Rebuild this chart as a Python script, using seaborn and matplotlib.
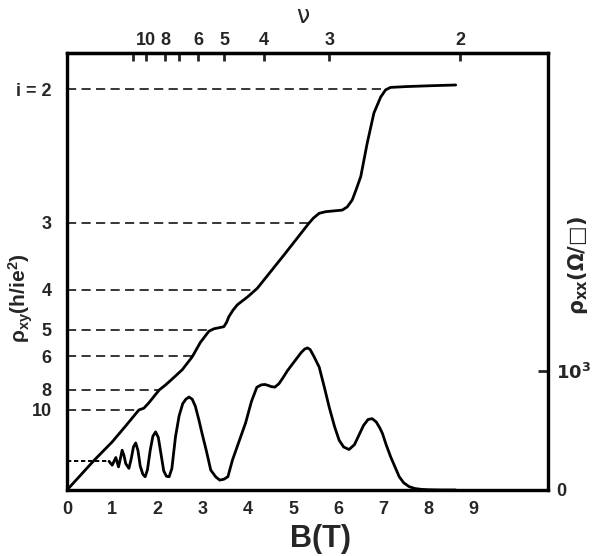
import numpy as np
import pandas as pd
import matplotlib
matplotlib.use("Agg")
import matplotlib.pyplot as plt
import seaborn as sns

# ---- data ----
hall_B = [0, 0.6, 1.0, 1.3, 1.59, 1.70, 1.80, 2.04, 2.18, 2.30, 2.55, 2.77, 2.95, 3.14, 3.25,
          3.47, 3.53, 3.58, 3.67, 3.77, 4.0, 4.21, 4.8, 5.35, 5.45, 5.58, 5.72, 5.9, 6.09, 6.20,
          6.31, 6.40, 6.50, 6.64, 6.79, 6.94, 7.05, 7.16, 7.5, 8.0, 8.6]
hall_rho = [0, 0.037, 0.060, 0.080, 0.0998, 0.102, 0.108, 0.1247, 0.131, 0.137, 0.150, 0.166,
            0.184, 0.198, 0.201, 0.2036, 0.209, 0.216, 0.224, 0.231, 0.241, 0.2515, 0.293,
            0.3325, 0.339, 0.345, 0.347, 0.348, 0.349, 0.353, 0.3616, 0.375, 0.391, 0.432,
            0.470, 0.490, 0.499, 0.502, 0.503, 0.504, 0.505]

rxx_B = [0.93, 1.00, 1.08, 1.14, 1.18, 1.22, 1.26, 1.30, 1.37, 1.42, 1.47, 1.52, 1.57, 1.62,
         1.68, 1.73, 1.78, 1.84, 1.90, 1.96, 2.02, 2.08, 2.14, 2.20, 2.26, 2.32, 2.40, 2.48,
         2.56, 2.63, 2.70, 2.77, 2.84, 2.92, 2.99, 3.08, 3.18, 3.29, 3.38, 3.47, 3.56, 3.66,
         3.80, 3.95, 4.08, 4.20, 4.30, 4.38, 4.45, 4.52, 4.60, 4.69, 4.78, 4.88, 4.98, 5.08,
         5.18, 5.26, 5.32, 5.38, 5.46, 5.58, 5.70, 5.80, 5.92, 6.02, 6.12, 6.24, 6.36, 6.46,
         6.56, 6.66, 6.75, 6.84, 6.92, 6.98, 7.06, 7.16, 7.26, 7.35, 7.45, 7.57, 7.70, 7.85,
         8.0, 8.3, 8.6]
rxx_val = [240, 208, 272, 194, 260, 333, 290, 220, 181, 260, 360, 394, 330, 200, 130, 111, 170,
           330, 450, 486, 440, 300, 160, 115, 111, 180, 444, 620, 722, 760, 778, 760, 700, 583,
           470, 333, 167, 110, 83, 90, 111, 250, 400, 560, 740, 860, 880, 883, 875, 865, 861,
           890, 940, 1000, 1050, 1100, 1150, 1180, 1189, 1175, 1120, 1028, 850, 694, 530, 417,
           360, 339, 380, 460, 540, 590, 597, 570, 520, 472, 380, 278, 190, 111, 60, 28, 12, 5,
           2, 0, 0]
rxx_zero_field = 240

plateau_i = [2, 3, 4, 5, 6, 8, 10]
plateau_labels = ["i = 2", "3", "4", "5", "6", "8", "10"]

nu_values = [12, 10, 8, 7, 6, 5, 4, 3, 2]
nu_labels = ["", "10", "8", "", "6", "5", "4", "3", "2"]
nuB_const = 17.4  # nu * B (T)

x_ticks = list(range(0, 10))
rxx_ticks = [0, 1000]
rxx_ticklabels = ["0", r"$\mathbf{10^3}$"]

# ---- styling ----
sns.set_style("white")
plt.rcParams["font.family"] = ["Liberation Sans", "DejaVu Sans"]
plt.rcParams["font.weight"] = "bold"
plt.rcParams["mathtext.default"] = "regular"

fig = plt.figure(figsize=(5.92, 5.56), dpi=100)
W, H = 592, 556
L, R, T, Bt = 67, 548, 53.3, 490
ax = fig.add_axes([L / W, 1 - Bt / H, (R - L) / W, (Bt - T) / H])
ax2 = ax.twinx()

hall_df = pd.DataFrame({"B": hall_B, "rho": hall_rho})
rxx_df = pd.DataFrame({"B": rxx_B, "rxx": rxx_val})

sns.lineplot(data=hall_df, x="B", y="rho", ax=ax, color="black", lw=2.0,
             estimator=None, sort=False)
sns.lineplot(data=rxx_df, x="B", y="rxx", ax=ax2, color="black", lw=2.0,
             estimator=None, sort=False)
ax2.plot([0, rxx_B[0]], [rxx_zero_field, rxx_zero_field], color="black", lw=1.4,
         dashes=(2.2, 1.4))

# dashed plateau guide lines from the axis to the Hall curve
for i in plateau_i:
    level = 1.0 / i
    end = np.interp(level, hall_rho, hall_B)
    ax.plot([0, end], [level, level], color="black", lw=1.1, dashes=(6, 3.5))

xmax = (R - L) / 45.2
ax.set_xlim(0, xmax)
ax.set_ylim(0, (Bt - T) / 802.0)
ax2.set_ylim(0, (Bt - T) / 119.5 * 1000)

ax.set_xticks(x_ticks)
ax.set_xticklabels([str(v) for v in x_ticks], fontsize=13, fontweight="bold")
ax.set_yticks([1.0 / i for i in plateau_i])
ax.set_yticklabels(plateau_labels, fontsize=13, fontweight="bold")
ax2.set_yticks(rxx_ticks)
ax2.set_yticklabels(rxx_ticklabels, fontsize=13, fontweight="bold")

ax.tick_params(axis="x", direction="in", length=5, width=2, pad=8)
ax.tick_params(axis="y", length=0, pad=11)
ax2.tick_params(axis="y", direction="in", length=7, width=2, pad=6)

ax.set_xlabel("")
ax.set_ylabel("")
ax2.set_ylabel("")

top = ax.secondary_xaxis("top")
top.set_xticks([nuB_const / n for n in nu_values])
top.set_xticklabels(nu_labels, fontsize=13, fontweight="bold")
top.tick_params(direction="in", length=6, width=2, pad=3)

for a in (ax, ax2):
    for s in a.spines.values():
        s.set_linewidth(2.3)
        s.set_color("black")
top.spines["top"].set_linewidth(2.3)

fig.text(321 / W, 1 - 539 / H, "B(T)", fontsize=22, fontweight="bold",
         ha="center", va="center")
fig.text(303 / W, 1 - 16 / H, "ν", fontsize=17, fontweight="normal",
         ha="center", va="center", family=["DejaVu Sans"])
fig.text(21 / W, 1 - 298 / H, r"$\rho_{xy}$(h/ie$^2$)", fontsize=15, rotation=90,
         ha="center", va="center")
fig.text(578 / W, 1 - 266 / H, r"$\rho_{xx}$(Ω/□)", fontsize=15, rotation=90,
         ha="center", va="center", family=["DejaVu Sans"])

fig.savefig("out.png", dpi=100)
